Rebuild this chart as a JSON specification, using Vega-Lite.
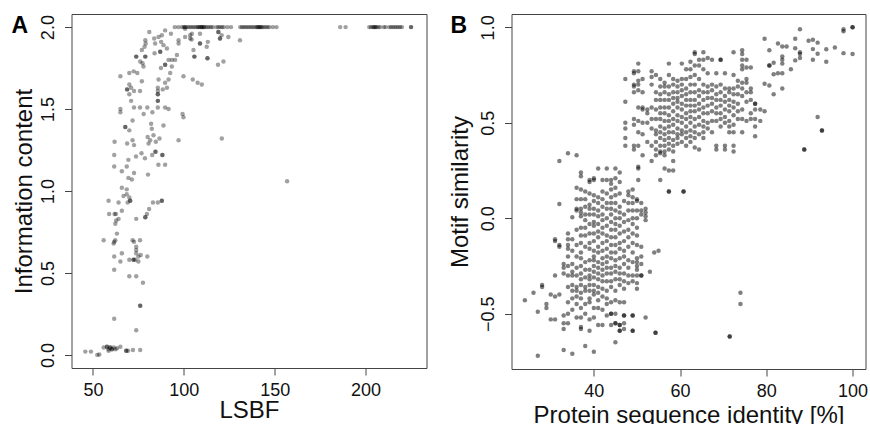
{
"$schema": "https://vega.github.io/schema/vega-lite/v6.json",
"padding": {"left": 10.5, "top": 13, "right": 0, "bottom": 0},
"bounds": "flush",
"spacing": 85,
"background": "white",
"config": {
  "view": {"stroke": "#444", "strokeWidth": 1},
  "font": "Liberation Sans",
  "axis": {"domain": false, "grid": false, "tickColor": "#444", "tickSize": 7, "tickWidth": 1, "labelFont": "Liberation Sans", "labelFontSize": 18, "labelColor": "#111", "titleFont": "Liberation Sans", "titleFontSize": 24, "titleFontWeight": "normal", "titleColor": "#111", "labelOverlap": false, "labelFlush": false},
  "axisX": {"labelPadding": 6, "titleBaseline": "alphabetic", "titleAnchor": "middle"},
  "axisY": {"labelAngle": -90, "labelAlign": "center", "labelBaseline": "alphabetic", "labelPadding": 11, "titleBaseline": "alphabetic", "titleAngle": -90, "titleAnchor": "middle"},
  "title": {"fontSize": 23, "fontWeight": "bold", "font": "Liberation Sans", "anchor": "start", "frame": "group", "baseline": "alphabetic", "color": "#000", "offset": 0}
},
"datasets": {
"a": [
{"x":95,"y":2},{"x":97,"y":2},{"x":99,"y":2},{"x":100,"y":2},{"x":100.5,"y":2},{"x":101,"y":2},{"x":102,"y":2},{"x":103,"y":2},{"x":104,"y":2},{"x":105,"y":2},{"x":106,"y":2},{"x":107,"y":2},{"x":108,"y":2},{"x":108,"y":2},{"x":109,"y":2},{"x":109.5,"y":2},{"x":110,"y":2},{"x":110,"y":2},{"x":111,"y":2},{"x":111,"y":2},{"x":112,"y":2},{"x":113,"y":2},{"x":114,"y":2},{"x":115,"y":2},{"x":116,"y":2},{"x":118,"y":2},{"x":119,"y":2},{"x":120,"y":2},{"x":121,"y":2},{"x":122,"y":2},{"x":124,"y":2},{"x":126,"y":2},{"x":131,"y":2},{"x":132,"y":2},{"x":133,"y":2},{"x":134,"y":2},{"x":135,"y":2},{"x":136,"y":2},{"x":137,"y":2},{"x":138,"y":2},{"x":139,"y":2},{"x":140,"y":2},{"x":140.5,"y":2},{"x":141,"y":2},{"x":141.5,"y":2},{"x":142,"y":2},{"x":142.5,"y":2},{"x":143,"y":2},{"x":144,"y":2},{"x":145,"y":2},{"x":146,"y":2},{"x":147,"y":2},{"x":149,"y":2},{"x":151,"y":2},{"x":186,"y":2},{"x":189,"y":2},{"x":202,"y":2},{"x":203,"y":2},{"x":204,"y":2},{"x":204.5,"y":2},{"x":205,"y":2},{"x":205.5,"y":2},{"x":206,"y":2},{"x":207,"y":2},{"x":208,"y":2},{"x":210,"y":2},{"x":211,"y":2},{"x":213,"y":2},{"x":214,"y":2},{"x":215,"y":2},{"x":216,"y":2},{"x":217,"y":2},{"x":218,"y":2},{"x":219,"y":2},{"x":220,"y":2},{"x":225,"y":2},{"x":225,"y":2},{"x":100.7,"y":1.99},
{"x":81,"y":1.97},{"x":89.7,"y":1.98},{"x":92.9,"y":1.96},{"x":78.8,"y":1.92},{"x":79,"y":1.9},{"x":78.4,"y":1.88},{"x":76.9,"y":1.86},{"x":83.7,"y":1.93},{"x":84.2,"y":1.9},{"x":86.1,"y":1.94},{"x":87.9,"y":1.95},{"x":87.5,"y":1.91},{"x":88.8,"y":1.89},{"x":90.7,"y":1.87},{"x":87,"y":1.85},{"x":87,"y":1.85},{"x":83.9,"y":1.84},{"x":78.8,"y":1.82},{"x":78.8,"y":1.82},{"x":73.8,"y":1.82},{"x":73.8,"y":1.82},{"x":76,"y":1.79},{"x":77.3,"y":1.78},{"x":77.8,"y":1.76},{"x":74.4,"y":1.72},{"x":72.4,"y":1.73},{"x":70,"y":1.72},{"x":65.1,"y":1.7},{"x":89.7,"y":1.77},{"x":89.7,"y":1.77},{"x":87.4,"y":1.75},{"x":91.6,"y":1.8},{"x":93.4,"y":1.8},{"x":95.2,"y":1.8},{"x":96.2,"y":1.83},{"x":97.1,"y":1.92},{"x":97.1,"y":1.9},{"x":93.4,"y":1.76},{"x":92.5,"y":1.72},{"x":91.6,"y":1.68},{"x":89.7,"y":1.66},{"x":86.1,"y":1.68},{"x":85.7,"y":1.63},{"x":85.7,"y":1.61},{"x":85.7,"y":1.59},{"x":85.7,"y":1.59},{"x":85.7,"y":1.55},{"x":85.7,"y":1.55},{"x":85.7,"y":1.51},{"x":88.4,"y":1.62},{"x":90.7,"y":1.63},{"x":99.8,"y":1.7},{"x":104.9,"y":1.68},{"x":107.6,"y":1.66},{"x":109.9,"y":1.65},{"x":100.7,"y":1.94},{"x":103.5,"y":1.95},{"x":103.5,"y":1.93},{"x":104.4,"y":1.96},{"x":104.3,"y":1.925},{"x":105.3,"y":1.86},{"x":105.8,"y":1.82},{"x":105.8,"y":1.82},{"x":108.9,"y":1.96},{"x":108.9,"y":1.9},{"x":108.9,"y":1.9},{"x":113.2,"y":1.91},{"x":112.6,"y":1.88},{"x":113,"y":1.81},{"x":113,"y":1.81},{"x":119,"y":1.97},{"x":119,"y":1.97},{"x":119.9,"y":1.93},{"x":119.9,"y":1.93},{"x":120.8,"y":1.95},{"x":124.5,"y":1.94},{"x":130.9,"y":1.92},{"x":118.8,"y":1.77},{"x":121.8,"y":1.79},{"x":120.9,"y":1.32},{"x":156.8,"y":1.06},
{"x":65.1,"y":1.5},{"x":65.1,"y":1.48},{"x":72.6,"y":1.51},{"x":75.9,"y":1.51},{"x":79.9,"y":1.51},{"x":82.7,"y":1.48},{"x":77.9,"y":1.47},{"x":70,"y":1.65},{"x":71,"y":1.63},{"x":68.8,"y":1.62},{"x":68.8,"y":1.62},{"x":70,"y":1.59},{"x":71,"y":1.55},{"x":72.6,"y":1.61},{"x":75.9,"y":1.61},{"x":76.9,"y":1.67},{"x":71.8,"y":1.43},{"x":67.8,"y":1.39},{"x":67.8,"y":1.39},{"x":70,"y":1.37},{"x":82,"y":1.41},{"x":82.4,"y":1.38},{"x":83.3,"y":1.34},{"x":80.1,"y":1.33},{"x":81.5,"y":1.31},{"x":86.6,"y":1.32},{"x":84.6,"y":1.3},{"x":88.8,"y":1.4},{"x":97.1,"y":1.31},{"x":99.3,"y":1.47},{"x":99.8,"y":1.45},{"x":89.7,"y":1.51},{"x":91.6,"y":1.5},{"x":80.6,"y":1.29},{"x":71.8,"y":1.31},{"x":68.8,"y":1.29},{"x":72.6,"y":1.28},{"x":61.9,"y":1.3},{"x":61.7,"y":1.22},{"x":61.7,"y":1.15},{"x":65.9,"y":1.12},{"x":73.7,"y":1.21},{"x":76.7,"y":1.23},{"x":78.6,"y":1.2},{"x":82.6,"y":1.22},{"x":84.4,"y":1.24},{"x":84.4,"y":1.24},{"x":88.2,"y":1.22},{"x":88.2,"y":1.22},{"x":86,"y":1.16},{"x":89.7,"y":1.16},{"x":69.5,"y":1.19},{"x":68.6,"y":1.15},{"x":72.6,"y":1.11},{"x":69.5,"y":1.08},{"x":71.4,"y":1.07},{"x":80.3,"y":1.1},{"x":65.9,"y":1.02},{"x":68.6,"y":1.01},{"x":66.8,"y":0.97},{"x":68.6,"y":0.98},{"x":70,"y":0.96},{"x":70.5,"y":0.94},{"x":70.5,"y":0.94},{"x":69.1,"y":0.93},{"x":58.6,"y":0.94},{"x":64.1,"y":0.93},{"x":83,"y":0.93},{"x":85.7,"y":0.93},{"x":87.9,"y":0.94},{"x":87.9,"y":0.94},{"x":58.9,"y":0.86},{"x":61.9,"y":0.86},{"x":62.6,"y":0.86},{"x":65.9,"y":0.88},{"x":80.9,"y":0.89},{"x":79.7,"y":0.86},{"x":78.8,"y":0.84},{"x":78.8,"y":0.84},{"x":73.8,"y":0.83},{"x":62.8,"y":0.82},{"x":62.3,"y":0.8},{"x":64.1,"y":0.83},{"x":63.2,"y":0.74},{"x":55.9,"y":0.7},{"x":61.7,"y":0.69},{"x":62.3,"y":0.7},{"x":61.4,"y":0.68},{"x":71.8,"y":0.7},{"x":75.9,"y":0.7},{"x":72.6,"y":0.69},{"x":73.8,"y":0.66},{"x":73.8,"y":0.64},{"x":73.8,"y":0.62},{"x":65.9,"y":0.62},{"x":61.7,"y":0.6},{"x":75,"y":0.6},{"x":76.3,"y":0.61},{"x":79.9,"y":0.6},{"x":65.1,"y":0.57},{"x":70,"y":0.58},{"x":72.3,"y":0.58},{"x":72.3,"y":0.58},{"x":73.3,"y":0.58},{"x":75,"y":0.57},{"x":61.7,"y":0.52},{"x":70,"y":0.48},{"x":73.8,"y":0.48},{"x":77.5,"y":0.44},{"x":76,"y":0.3},{"x":76,"y":0.3},{"x":61.7,"y":0.22},{"x":73.8,"y":0.15},
{"x":45.8,"y":0.02},{"x":48.9,"y":0.02},{"x":52.4,"y":0},{"x":53.5,"y":0.002},{"x":55.9,"y":0.045},{"x":57.7,"y":0.05},{"x":57.7,"y":0.05},{"x":58.6,"y":0.035},{"x":59.5,"y":0.045},{"x":59.5,"y":0.045},{"x":60.4,"y":0.035},{"x":60.4,"y":0.035},{"x":61.4,"y":0.045},{"x":62.3,"y":0.035},{"x":63.2,"y":0.04},{"x":65.1,"y":0.05},{"x":58.6,"y":0.025},{"x":68.3,"y":0.025},{"x":68.3,"y":0.025},{"x":69.3,"y":0.025},{"x":72,"y":0.03},{"x":76,"y":0.03}
],
"b": [
{"x":24,"y":-0.43},{"x":26,"y":-0.39},{"x":27,"y":-0.49},{"x":27,"y":-0.72},{"x":28,"y":-0.35},{"x":28,"y":-0.36},{"x":29,"y":-0.45},{"x":29,"y":-0.47},{"x":30,"y":-0.4},{"x":30,"y":-0.53},{"x":31,"y":-0.41},{"x":31,"y":-0.53},
{"x":31,"y":-0.11},{"x":31,"y":-0.12},{"x":31,"y":-0.3},
{"x":32,"y":0.3},{"x":32,"y":0.075},{"x":32,"y":-0.14},{"x":32,"y":-0.15},{"x":32,"y":-0.4},
{"x":33,"y":-0.24},{"x":33,"y":-0.26},{"x":33,"y":-0.29},{"x":33,"y":-0.51},{"x":33,"y":-0.55},{"x":33,"y":-0.58},{"x":33,"y":-0.69},
{"x":34,"y":0.34},{"x":34,"y":-0.08},{"x":34,"y":-0.11},{"x":34,"y":-0.14},{"x":34,"y":-0.16},{"x":34,"y":-0.2},{"x":34,"y":-0.25},{"x":34,"y":-0.3},{"x":34,"y":-0.36},{"x":34,"y":-0.44},{"x":34,"y":-0.5},{"x":34,"y":-0.55},
{"x":35,"y":0.005},{"x":35,"y":-0.11},{"x":35,"y":-0.17},{"x":35,"y":-0.24},{"x":35,"y":-0.28},{"x":35,"y":-0.3},{"x":35,"y":-0.35},{"x":35,"y":-0.38},{"x":35,"y":-0.42},{"x":35,"y":-0.48},{"x":35,"y":-0.71},
{"x":36,"y":0.33},{"x":36,"y":0.16},{"x":36,"y":0.1},{"x":36,"y":0.05},{"x":36,"y":0.04},{"x":36,"y":-0.06},{"x":36,"y":-0.14},{"x":36,"y":-0.2},{"x":36,"y":-0.26},{"x":36,"y":-0.3},{"x":36,"y":-0.36},{"x":36,"y":-0.38},{"x":36,"y":-0.41},{"x":36,"y":-0.45},{"x":36,"y":-0.52},
{"x":37,"y":0.24},{"x":37,"y":0.22},{"x":37,"y":0.15},{"x":37,"y":0.1},{"x":37,"y":0.05},{"x":37,"y":0.03},{"x":37,"y":0.01},{"x":37,"y":-0.05},{"x":37,"y":-0.09},{"x":37,"y":-0.13},{"x":37,"y":-0.18},{"x":37,"y":-0.21},{"x":37,"y":-0.25},{"x":37,"y":-0.29},{"x":37,"y":-0.32},{"x":37,"y":-0.35},{"x":37,"y":-0.39},{"x":37,"y":-0.42},{"x":37,"y":-0.47},{"x":37,"y":-0.52},{"x":37,"y":-0.57},{"x":37,"y":-0.58},
{"x":38,"y":0.14},{"x":38,"y":0.1},{"x":38,"y":0.06},{"x":38,"y":0.02},{"x":38,"y":-0.01},{"x":38,"y":-0.05},{"x":38,"y":-0.09},{"x":38,"y":-0.15},{"x":38,"y":-0.23},{"x":38,"y":-0.27},{"x":38,"y":-0.31},{"x":38,"y":-0.36},{"x":38,"y":-0.38},{"x":38,"y":-0.45},{"x":38,"y":-0.5},{"x":38,"y":-0.67},
{"x":39,"y":0.2},{"x":39,"y":0.19},{"x":39,"y":0.13},{"x":39,"y":0.07},{"x":39,"y":0.05},{"x":39,"y":0.02},{"x":39,"y":-0.03},{"x":39,"y":-0.08},{"x":39,"y":-0.13},{"x":39,"y":-0.16},{"x":39,"y":-0.22},{"x":39,"y":-0.27},{"x":39,"y":-0.3},{"x":39,"y":-0.32},{"x":39,"y":-0.35},{"x":39,"y":-0.38},{"x":39,"y":-0.42},{"x":39,"y":-0.44},{"x":39,"y":-0.53},{"x":39,"y":-0.59},
{"x":40,"y":0.21},{"x":40,"y":0.2},{"x":40,"y":0.12},{"x":40,"y":0.09},{"x":40,"y":0.05},{"x":40,"y":0.02},{"x":40,"y":-0.02},{"x":40,"y":-0.04},{"x":40,"y":-0.08},{"x":40,"y":-0.12},{"x":40,"y":-0.17},{"x":40,"y":-0.2},{"x":40,"y":-0.22},{"x":40,"y":-0.25},{"x":40,"y":-0.28},{"x":40,"y":-0.31},{"x":40,"y":-0.35},{"x":40,"y":-0.38},{"x":40,"y":-0.4},{"x":40,"y":-0.47},{"x":40,"y":-0.52},{"x":40,"y":-0.7},
{"x":41,"y":0.26},{"x":41,"y":0.11},{"x":41,"y":0.08},{"x":41,"y":0.04},{"x":41,"y":0.01},{"x":41,"y":-0.03},{"x":41,"y":-0.07},{"x":41,"y":-0.1},{"x":41,"y":-0.15},{"x":41,"y":-0.18},{"x":41,"y":-0.23},{"x":41,"y":-0.26},{"x":41,"y":-0.29},{"x":41,"y":-0.32},{"x":41,"y":-0.36},{"x":41,"y":-0.39},{"x":41,"y":-0.43},{"x":41,"y":-0.47},{"x":41,"y":-0.56},
{"x":42,"y":0.2},{"x":42,"y":0.14},{"x":42,"y":0.1},{"x":42,"y":0.06},{"x":42,"y":0.02},{"x":42,"y":-0.01},{"x":42,"y":-0.05},{"x":42,"y":-0.08},{"x":42,"y":-0.13},{"x":42,"y":-0.17},{"x":42,"y":-0.21},{"x":42,"y":-0.24},{"x":42,"y":-0.27},{"x":42,"y":-0.3},{"x":42,"y":-0.33},{"x":42,"y":-0.37},{"x":42,"y":-0.41},{"x":42,"y":-0.48},{"x":42,"y":-0.56},
{"x":43,"y":0.26},{"x":43,"y":0.2},{"x":43,"y":0.13},{"x":43,"y":0.08},{"x":43,"y":0.05},{"x":43,"y":0},{"x":43,"y":-0.04},{"x":43,"y":-0.09},{"x":43,"y":-0.12},{"x":43,"y":-0.16},{"x":43,"y":-0.2},{"x":43,"y":-0.23},{"x":43,"y":-0.26},{"x":43,"y":-0.29},{"x":43,"y":-0.33},{"x":43,"y":-0.38},{"x":43,"y":-0.42},{"x":43,"y":-0.45},{"x":43,"y":-0.51},
{"x":44,"y":0.2},{"x":44,"y":0.18},{"x":44,"y":0.15},{"x":44,"y":0.11},{"x":44,"y":0.08},{"x":44,"y":0.05},{"x":44,"y":0.02},{"x":44,"y":-0.02},{"x":44,"y":-0.06},{"x":44,"y":-0.1},{"x":44,"y":-0.14},{"x":44,"y":-0.18},{"x":44,"y":-0.21},{"x":44,"y":-0.26},{"x":44,"y":-0.29},{"x":44,"y":-0.33},{"x":44,"y":-0.36},{"x":44,"y":-0.44},{"x":44,"y":-0.5},{"x":44,"y":-0.5},{"x":44,"y":-0.56},
{"x":45,"y":0.26},{"x":45,"y":0.21},{"x":45,"y":0.16},{"x":45,"y":0.12},{"x":45,"y":0.08},{"x":45,"y":0.04},{"x":45,"y":0},{"x":45,"y":-0.03},{"x":45,"y":-0.06},{"x":45,"y":-0.1},{"x":45,"y":-0.14},{"x":45,"y":-0.18},{"x":45,"y":-0.22},{"x":45,"y":-0.25},{"x":45,"y":-0.28},{"x":45,"y":-0.32},{"x":45,"y":-0.38},{"x":45,"y":-0.43},{"x":45,"y":-0.5},{"x":45,"y":-0.55},{"x":45,"y":-0.55},{"x":45,"y":-0.65},
{"x":46,"y":0.24},{"x":46,"y":0.19},{"x":46,"y":0.13},{"x":46,"y":0.06},{"x":46,"y":0.03},{"x":46,"y":0},{"x":46,"y":-0.04},{"x":46,"y":-0.08},{"x":46,"y":-0.13},{"x":46,"y":-0.16},{"x":46,"y":-0.21},{"x":46,"y":-0.26},{"x":46,"y":-0.29},{"x":46,"y":-0.32},{"x":46,"y":-0.35},{"x":46,"y":-0.44},{"x":46,"y":-0.56},{"x":46,"y":-0.56},{"x":46,"y":-0.59},{"x":46,"y":-0.59},
{"x":47,"y":0.09},{"x":47,"y":0.02},{"x":47,"y":-0.02},{"x":47,"y":-0.07},{"x":47,"y":-0.12},{"x":47,"y":-0.17},{"x":47,"y":-0.2},{"x":47,"y":-0.24},{"x":47,"y":-0.29},{"x":47,"y":-0.33},{"x":47,"y":-0.37},{"x":47,"y":-0.44},{"x":47,"y":-0.51},{"x":47,"y":-0.51},{"x":47,"y":-0.55},{"x":47,"y":-0.58},
{"x":48,"y":0.14},{"x":48,"y":0.12},{"x":48,"y":0.08},{"x":48,"y":0.04},{"x":48,"y":-0.01},{"x":48,"y":-0.06},{"x":48,"y":-0.1},{"x":48,"y":-0.15},{"x":48,"y":-0.22},{"x":48,"y":-0.26},{"x":48,"y":-0.3},{"x":48,"y":-0.34},
{"x":49,"y":0.15},{"x":49,"y":0.11},{"x":49,"y":0.08},{"x":49,"y":0.04},{"x":49,"y":0},{"x":49,"y":-0.03},{"x":49,"y":-0.08},{"x":49,"y":-0.13},{"x":49,"y":-0.18},{"x":49,"y":-0.23},{"x":49,"y":-0.3},{"x":49,"y":-0.33},{"x":49,"y":-0.51},{"x":49,"y":-0.51},{"x":49,"y":-0.59},{"x":49,"y":-0.59},
{"x":50,"y":0.1},{"x":50,"y":0.09},{"x":50,"y":0.04},{"x":50,"y":0},{"x":50,"y":-0.05},{"x":50,"y":-0.09},{"x":50,"y":-0.14},{"x":50,"y":-0.21},{"x":50,"y":-0.23},{"x":50,"y":-0.25},{"x":50,"y":-0.27},{"x":50,"y":-0.3},{"x":50,"y":-0.34},{"x":50,"y":-0.37},
{"x":51,"y":0.08},{"x":51,"y":0.04},{"x":51,"y":0.02},{"x":51,"y":-0.15},{"x":51,"y":-0.2},{"x":51,"y":-0.24},{"x":51,"y":-0.3},{"x":51,"y":-0.3},
{"x":52,"y":0.05},{"x":52,"y":0.03},{"x":52,"y":0.01},{"x":52,"y":-0.01},{"x":52,"y":-0.52},
{"x":53,"y":-0.28},{"x":54,"y":-0.18},{"x":54.3,"y":-0.6},{"x":54.3,"y":-0.6},{"x":55,"y":-0.17},
{"x":71.5,"y":-0.62},{"x":71.5,"y":-0.62},{"x":74,"y":-0.39},{"x":74,"y":-0.45},
{"x":47.3,"y":0.73},{"x":47.3,"y":0.61},{"x":47.3,"y":0.5},{"x":47.3,"y":0.47},{"x":47.3,"y":0.42},{"x":47.3,"y":0.38},
{"x":49.3,"y":0.77},{"x":49.3,"y":0.76},{"x":49.3,"y":0.7},{"x":49.3,"y":0.69},{"x":49.3,"y":0.66},{"x":49.3,"y":0.52},{"x":49.3,"y":0.49},{"x":49.3,"y":0.38},{"x":49.3,"y":0.36},
{"x":50.3,"y":0.81},{"x":50.3,"y":0.77},{"x":50.3,"y":0.72},{"x":50.3,"y":0.7},{"x":50.3,"y":0.67},{"x":50.3,"y":0.58},{"x":50.3,"y":0.51},{"x":50.3,"y":0.45},{"x":50.3,"y":0.38},{"x":50.3,"y":0.27},{"x":50.3,"y":0.26},{"x":50.3,"y":0.2},
{"x":51.3,"y":0.73},{"x":51.3,"y":0.66},{"x":51.3,"y":0.58},{"x":51.3,"y":0.57},{"x":51.3,"y":0.5},{"x":51.3,"y":0.44},{"x":51.3,"y":0.33},
{"x":52.4,"y":0.57},{"x":52.4,"y":0.55},{"x":52.4,"y":0.5},{"x":52.4,"y":0.4},
{"x":53.4,"y":0.77},{"x":53.4,"y":0.74},{"x":53.4,"y":0.7},{"x":53.4,"y":0.58},{"x":53.4,"y":0.52},{"x":53.4,"y":0.47},{"x":53.4,"y":0.38},{"x":53.4,"y":0.3},
{"x":54.4,"y":0.75},{"x":54.4,"y":0.66},{"x":54.4,"y":0.62},{"x":54.4,"y":0.57},{"x":54.4,"y":0.52},{"x":54.4,"y":0.46},{"x":54.4,"y":0.44},{"x":54.4,"y":0.4},{"x":54.4,"y":0.36},{"x":54.4,"y":0.33},
{"x":55.4,"y":0.73},{"x":55.4,"y":0.69},{"x":55.4,"y":0.65},{"x":55.4,"y":0.62},{"x":55.4,"y":0.58},{"x":55.4,"y":0.55},{"x":55.4,"y":0.52},{"x":55.4,"y":0.48},{"x":55.4,"y":0.45},{"x":55.4,"y":0.42},{"x":55.4,"y":0.38},{"x":55.4,"y":0.35},{"x":55.4,"y":0.34},{"x":55.4,"y":0.2},
{"x":56.4,"y":0.71},{"x":56.4,"y":0.69},{"x":56.4,"y":0.66},{"x":56.4,"y":0.62},{"x":56.4,"y":0.58},{"x":56.4,"y":0.55},{"x":56.4,"y":0.51},{"x":56.4,"y":0.47},{"x":56.4,"y":0.44},{"x":56.4,"y":0.41},{"x":56.4,"y":0.38},{"x":56.4,"y":0.35},{"x":56.4,"y":0.33},{"x":56.4,"y":0.26},
{"x":57.4,"y":0.81},{"x":57.4,"y":0.75},{"x":57.4,"y":0.69},{"x":57.4,"y":0.65},{"x":57.4,"y":0.62},{"x":57.4,"y":0.58},{"x":57.4,"y":0.54},{"x":57.4,"y":0.51},{"x":57.4,"y":0.48},{"x":57.4,"y":0.45},{"x":57.4,"y":0.42},{"x":57.4,"y":0.39},{"x":57.4,"y":0.36},{"x":57.4,"y":0.25},{"x":57.4,"y":0.14},{"x":57.4,"y":0.14},
{"x":58.4,"y":0.73},{"x":58.4,"y":0.7},{"x":58.4,"y":0.66},{"x":58.4,"y":0.63},{"x":58.4,"y":0.6},{"x":58.4,"y":0.56},{"x":58.4,"y":0.52},{"x":58.4,"y":0.49},{"x":58.4,"y":0.45},{"x":58.4,"y":0.41},{"x":58.4,"y":0.38},{"x":58.4,"y":0.35},{"x":58.4,"y":0.3},{"x":58.4,"y":0.25},
{"x":59.4,"y":0.72},{"x":59.4,"y":0.69},{"x":59.4,"y":0.66},{"x":59.4,"y":0.63},{"x":59.4,"y":0.61},{"x":59.4,"y":0.58},{"x":59.4,"y":0.54},{"x":59.4,"y":0.51},{"x":59.4,"y":0.47},{"x":59.4,"y":0.44},{"x":59.4,"y":0.42},{"x":59.4,"y":0.39},
{"x":60.4,"y":0.81},{"x":60.4,"y":0.73},{"x":60.4,"y":0.7},{"x":60.4,"y":0.67},{"x":60.4,"y":0.64},{"x":60.4,"y":0.6},{"x":60.4,"y":0.57},{"x":60.4,"y":0.53},{"x":60.4,"y":0.5},{"x":60.4,"y":0.46},{"x":60.4,"y":0.44},{"x":60.4,"y":0.4},{"x":60.8,"y":0.14},{"x":60.8,"y":0.14},
{"x":61.4,"y":0.78},{"x":61.4,"y":0.73},{"x":61.4,"y":0.68},{"x":61.4,"y":0.65},{"x":61.4,"y":0.62},{"x":61.4,"y":0.59},{"x":61.4,"y":0.55},{"x":61.4,"y":0.52},{"x":61.4,"y":0.48},{"x":61.4,"y":0.45},{"x":61.4,"y":0.42},{"x":61.4,"y":0.38},
{"x":62.4,"y":0.82},{"x":62.4,"y":0.78},{"x":62.4,"y":0.74},{"x":62.4,"y":0.7},{"x":62.4,"y":0.66},{"x":62.4,"y":0.62},{"x":62.4,"y":0.59},{"x":62.4,"y":0.56},{"x":62.4,"y":0.53},{"x":62.4,"y":0.5},{"x":62.4,"y":0.46},{"x":62.4,"y":0.43},{"x":62.4,"y":0.4},
{"x":63.4,"y":0.87},{"x":63.4,"y":0.86},{"x":63.4,"y":0.8},{"x":63.4,"y":0.75},{"x":63.4,"y":0.7},{"x":63.4,"y":0.66},{"x":63.4,"y":0.62},{"x":63.4,"y":0.59},{"x":63.4,"y":0.56},{"x":63.4,"y":0.52},{"x":63.4,"y":0.48},{"x":63.4,"y":0.45},{"x":63.4,"y":0.42},{"x":63.4,"y":0.37},
{"x":64.4,"y":0.83},{"x":64.4,"y":0.8},{"x":64.4,"y":0.73},{"x":64.4,"y":0.67},{"x":64.4,"y":0.64},{"x":64.4,"y":0.6},{"x":64.4,"y":0.57},{"x":64.4,"y":0.53},{"x":64.4,"y":0.49},{"x":64.4,"y":0.44},{"x":64.4,"y":0.36},
{"x":65.4,"y":0.87},{"x":65.4,"y":0.83},{"x":65.4,"y":0.78},{"x":65.4,"y":0.7},{"x":65.4,"y":0.66},{"x":65.4,"y":0.62},{"x":65.4,"y":0.58},{"x":65.4,"y":0.55},{"x":65.4,"y":0.51},{"x":65.4,"y":0.48},{"x":65.4,"y":0.45},{"x":65.4,"y":0.42},
{"x":66.4,"y":0.84},{"x":66.4,"y":0.76},{"x":66.4,"y":0.69},{"x":66.4,"y":0.66},{"x":66.4,"y":0.63},{"x":66.4,"y":0.59},{"x":66.4,"y":0.55},{"x":66.4,"y":0.5},{"x":66.4,"y":0.47},
{"x":67.4,"y":0.83},{"x":67.4,"y":0.7},{"x":67.4,"y":0.67},{"x":67.4,"y":0.63},{"x":67.4,"y":0.6},{"x":67.4,"y":0.56},{"x":67.4,"y":0.51},{"x":67.4,"y":0.45},
{"x":68.4,"y":0.76},{"x":68.4,"y":0.69},{"x":68.4,"y":0.65},{"x":68.4,"y":0.62},{"x":68.4,"y":0.58},{"x":68.4,"y":0.55},{"x":68.4,"y":0.51},{"x":68.4,"y":0.38},{"x":68.4,"y":0.36},
{"x":69.4,"y":0.83},{"x":69.4,"y":0.83},{"x":69.4,"y":0.7},{"x":69.4,"y":0.66},{"x":69.4,"y":0.62},{"x":69.4,"y":0.59},{"x":69.4,"y":0.55},{"x":69.4,"y":0.52},{"x":69.4,"y":0.48},
{"x":70.4,"y":0.76},{"x":70.4,"y":0.68},{"x":70.4,"y":0.64},{"x":70.4,"y":0.61},{"x":70.4,"y":0.57},{"x":70.4,"y":0.53},{"x":70.4,"y":0.5},{"x":70.4,"y":0.38},{"x":70.4,"y":0.36},
{"x":71.4,"y":0.68},{"x":71.4,"y":0.66},{"x":71.4,"y":0.62},{"x":71.4,"y":0.59},{"x":71.4,"y":0.56},{"x":71.4,"y":0.51},{"x":71.4,"y":0.48},{"x":71.4,"y":0.45},
{"x":72.4,"y":0.87},{"x":72.4,"y":0.75},{"x":72.4,"y":0.68},{"x":72.4,"y":0.65},{"x":72.4,"y":0.61},{"x":72.4,"y":0.58},{"x":72.4,"y":0.54},{"x":72.4,"y":0.49},{"x":72.4,"y":0.45},{"x":72.4,"y":0.38},{"x":72.4,"y":0.35},
{"x":73.4,"y":0.72},{"x":73.4,"y":0.69},{"x":73.4,"y":0.65},{"x":73.4,"y":0.6},{"x":73.4,"y":0.56},{"x":73.4,"y":0.52},
{"x":74.4,"y":0.88},{"x":74.4,"y":0.86},{"x":74.4,"y":0.83},{"x":74.4,"y":0.8},{"x":74.4,"y":0.78},{"x":74.4,"y":0.71},{"x":74.4,"y":0.68},{"x":74.4,"y":0.64},{"x":74.4,"y":0.57},{"x":74.4,"y":0.52},{"x":74.4,"y":0.45},
{"x":75.4,"y":0.83},{"x":75.4,"y":0.79},{"x":75.4,"y":0.73},{"x":75.4,"y":0.71},{"x":75.4,"y":0.66},{"x":75.4,"y":0.61},{"x":75.4,"y":0.51},
{"x":76.4,"y":0.79},{"x":76.4,"y":0.68},{"x":76.4,"y":0.66},{"x":76.4,"y":0.62},{"x":76.4,"y":0.55},{"x":76.4,"y":0.52},
{"x":77.4,"y":0.6},{"x":77.4,"y":0.6},{"x":77.4,"y":0.57},{"x":77.4,"y":0.52},{"x":77.4,"y":0.48},{"x":77.4,"y":0.43},
{"x":78.6,"y":0.57},{"x":79.6,"y":0.56},{"x":78.6,"y":0.51},{"x":79.6,"y":0.94},{"x":79.6,"y":0.705},{"x":80.7,"y":0.695},{"x":81.7,"y":0.65},{"x":83.7,"y":0.68},{"x":81.7,"y":0.754},{"x":82.7,"y":0.76},{"x":83.7,"y":0.76},{"x":85.7,"y":0.78},{"x":80.7,"y":0.8},{"x":80.7,"y":0.8},{"x":81.7,"y":0.815},{"x":83.7,"y":0.81},{"x":83.7,"y":0.83},{"x":83.7,"y":0.847},{"x":86.7,"y":0.827},{"x":87.8,"y":0.84},{"x":90.8,"y":0.83},{"x":93.9,"y":0.82},{"x":80.7,"y":0.88},{"x":82.7,"y":0.915},{"x":83.7,"y":0.9},{"x":84.7,"y":0.9},{"x":86.7,"y":0.89},{"x":87.8,"y":0.87},{"x":87.8,"y":0.86},{"x":86.7,"y":0.94},{"x":87.8,"y":0.99},{"x":89.8,"y":0.93},{"x":90.8,"y":0.935},{"x":91.9,"y":0.92},{"x":90.8,"y":0.886},{"x":91.9,"y":0.862},{"x":93.9,"y":0.885},{"x":95.9,"y":0.894},{"x":97.9,"y":0.865},{"x":100,"y":0.86},{"x":97.9,"y":0.99},{"x":97.9,"y":0.98},{"x":100,"y":1},{"x":100,"y":1},{"x":91.9,"y":0.53},{"x":92.9,"y":0.46},{"x":92.9,"y":0.46},{"x":88.8,"y":0.36},{"x":88.8,"y":0.36}
]
},
"hconcat": [
  {
    "title": {"text": "A", "dx": -60, "dy": 28},
    "width": 355, "height": 354,
    "data": {"name": "a"},
    "mark": {"type": "circle", "size": 20, "color": "#000", "opacity": 0.37},
    "encoding": {
      "x": {"field": "x", "type": "quantitative", "scale": {"domain": [38.2, 233.5], "nice": false, "zero": false}, "axis": {"values": [50, 100, 150, 200], "title": "LSBF", "titleY": 49}},
      "y": {"field": "y", "type": "quantitative", "scale": {"domain": [-0.08, 2.08], "nice": false, "zero": false}, "axis": {"values": [0, 0.5, 1, 1.5, 2], "format": ".1f", "title": "Information content", "titleX": -40}}
    }
  },
  {
    "title": {"text": "B", "dx": -61, "dy": 28},
    "width": 354, "height": 355,
    "data": {"name": "b"},
    "mark": {"type": "circle", "size": 20, "color": "#000", "opacity": 0.5},
    "encoding": {
      "x": {"field": "x", "type": "quantitative", "scale": {"domain": [20.9, 103], "nice": false, "zero": false}, "axis": {"values": [40, 60, 80, 100], "title": "Protein sequence identity [%]", "titleY": 53}},
      "y": {"field": "y", "type": "quantitative", "scale": {"domain": [-0.79, 1.07], "nice": false, "zero": false}, "axis": {"values": [-0.5, 0, 0.5, 1], "format": ".1f", "title": "Motif similarity", "titleX": -44}}
    }
  }
]
}
